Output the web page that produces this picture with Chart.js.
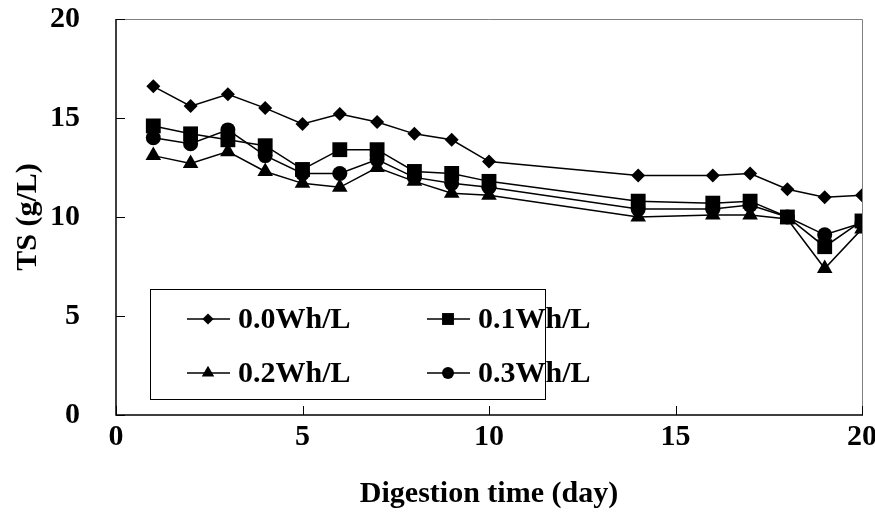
<!DOCTYPE html>
<html>
<head>
<meta charset="utf-8">
<script src="https://cdn.jsdelivr.net/npm/chart.js@4.4.1/dist/chart.umd.min.js"></script>
<style>
  html, body { margin: 0; padding: 0; background: #fff; }
  #wrap { width: 875px; height: 523px; }
</style>
</head>
<body>
<div id="wrap"><canvas id="myChart"></canvas></div>
<script>
const days = [1, 2, 3, 4, 5, 6, 7, 8, 9, 10, 14, 16, 17, 18, 19, 20];
const ts00 = [16.6, 15.6, 16.2, 15.5, 14.7, 15.2, 14.8, 14.2, 13.9, 12.8, 12.1, 12.1, 12.2, 11.4, 11.0, 11.1];
const ts01 = [14.6, 14.2, 13.9, 13.6, 12.4, 13.4, 13.4, 12.3, 12.2, 11.8, 10.8, 10.7, 10.8, 10.0, 8.5, 9.8];
const ts02 = [13.1, 12.7, 13.3, 12.3, 11.7, 11.5, 12.5, 11.8, 11.2, 11.1, 10.0, 10.1, 10.1, 9.9, 7.4, 9.4];
const ts03 = [14.0, 13.7, 14.4, 13.1, 12.2, 12.2, 12.9, 12.0, 11.7, 11.5, 10.4, 10.4, 10.6, 10.0, 9.1, 9.7];
const seriesLabels = ['0.0Wh/L', '0.1Wh/L', '0.2Wh/L', '0.3Wh/L'];
const xTicks = [0, 5, 10, 15, 20];
const yTicks = [0, 5, 10, 15, 20];

const FONT = '"Liberation Serif", "Times New Roman", serif';

function toPoints(values) {
    return days.map((d, i) => ({ x: d, y: values[i] }));
}

function makeSet(label, values, style, radius) {
    return {
        label: label,
        data: toPoints(values),
        showLine: true,
        borderColor: '#000',
        borderWidth: 1.5,
        backgroundColor: '#000',
        pointStyle: style,
        pointRadius: radius,
        pointBorderWidth: 0,
        pointBackgroundColor: '#000'
    };
}

// ticks pointing inward + plot border
const frameAndTicks = {
    id: 'frameAndTicks',
    afterDatasetsDraw(chart) {
        const { ctx, chartArea: { left, right, top, bottom }, scales: { x, y } } = chart;
        ctx.save();
        ctx.lineWidth = 1;
        ctx.strokeStyle = '#808080';
        ctx.beginPath();
        ctx.moveTo(left, top + 0.5);
        ctx.lineTo(right + 0.5, top + 0.5);
        ctx.lineTo(right + 0.5, bottom);
        ctx.stroke();

        ctx.strokeStyle = '#000';
        ctx.lineWidth = 1.5;
        ctx.beginPath();
        ctx.moveTo(left, top);
        ctx.lineTo(left, bottom);
        ctx.lineTo(right + 1, bottom);
        ctx.stroke();

        ctx.lineWidth = 1;
        ctx.beginPath();
        yTicks.forEach(v => {
            const py = Math.round(y.getPixelForValue(v)) + 0.5;
            ctx.moveTo(left, py);
            ctx.lineTo(left + 9, py);
        });
        xTicks.forEach(v => {
            const px = Math.round(x.getPixelForValue(v)) + 0.5;
            ctx.moveTo(px, bottom);
            ctx.lineTo(px, bottom - 9);
        });
        ctx.stroke();
        ctx.restore();
    }
};

// boxed two-column legend
const boxLegend = {
    id: 'boxLegend',
    afterDraw(chart) {
        const { ctx } = chart;
        const boxX = 150, boxY = 289, boxW = 395, boxH = 110;
        ctx.save();
        ctx.fillStyle = '#fff';
        ctx.fillRect(boxX, boxY, boxW, boxH);
        ctx.strokeStyle = '#000';
        ctx.lineWidth = 1;
        ctx.strokeRect(boxX + 0.5, boxY + 0.5, boxW, boxH);

        chart.data.datasets.forEach((ds, i) => {
            const col = i % 2;
            const row = Math.floor(i / 2);
            const lx = boxX + 37 + col * 240;
            const ly = boxY + 30 + row * 54;
            ctx.strokeStyle = '#000';
            ctx.lineWidth = 1.5;
            ctx.beginPath();
            ctx.moveTo(lx, ly);
            ctx.lineTo(lx + 43, ly);
            ctx.stroke();
            ctx.fillStyle = '#000';
            Chart.helpers.drawPoint(ctx, {
                pointStyle: ds.pointStyle,
                radius: ds.pointRadius * 0.8,
                borderWidth: 0,
                rotation: 0
            }, lx + 21, ly);
            ctx.font = `bold 30px ${FONT}`;
            ctx.textBaseline = 'middle';
            ctx.textAlign = 'left';
            ctx.fillText(ds.label, lx + 51, ly + 1);
        });
        ctx.restore();
    }
};

const ctx = document.getElementById('myChart');

new Chart(ctx, {
    type: 'scatter',
    data: {
        datasets: [
            makeSet(seriesLabels[0], ts00, 'rectRot', 7),
            makeSet(seriesLabels[1], ts01, 'rect', 10.5),
            makeSet(seriesLabels[2], ts02, 'triangle', 9),
            makeSet(seriesLabels[3], ts03, 'circle', 7.5)
        ]
    },
    options: {
        responsive: true,
        maintainAspectRatio: false,
        animation: false,
        layout: { padding: { left: 0, right: 13, top: 19, bottom: 0 } },
        plugins: {
            legend: { display: false },
            tooltip: { enabled: false }
        },
        scales: {
            x: {
                type: 'linear',
                min: 0,
                max: 20,
                afterBuildTicks: (scale) => { scale.ticks = xTicks.map(v => ({ value: v })); },
                afterFit: (scale) => {
                    scale.height = 108;
                    scale.paddingLeft = 0;
                    scale.paddingRight = 0;
                },
                grid: { display: false, drawTicks: false },
                border: { display: false },
                ticks: {
                    padding: 4,
                    color: '#000',
                    font: { family: FONT, size: 30, weight: 'bold' },
                    maxRotation: 0
                },
                title: {
                    display: true,
                    text: 'Digestion time (day)',
                    color: '#000',
                    font: { family: FONT, size: 30, weight: 'bold' },
                    padding: { top: 10, bottom: 11 }
                }
            },
            y: {
                type: 'linear',
                min: 0,
                max: 20,
                afterBuildTicks: (scale) => { scale.ticks = yTicks.map(v => ({ value: v })); },
                afterFit: (scale) => {
                    scale.width = 116;
                    scale.paddingTop = 0;
                    scale.paddingBottom = 0;
                },
                grid: { display: false, drawTicks: false },
                border: { display: false },
                ticks: {
                    padding: 36,
                    color: '#000',
                    font: { family: FONT, size: 30, weight: 'bold' }
                },
                title: {
                    display: true,
                    text: 'TS (g/L)',
                    color: '#000',
                    font: { family: FONT, size: 30, weight: 'bold' },
                    padding: { top: 10, bottom: 0 }
                }
            }
        }
    },
    plugins: [frameAndTicks, boxLegend]
});
</script>
</body>
</html>
